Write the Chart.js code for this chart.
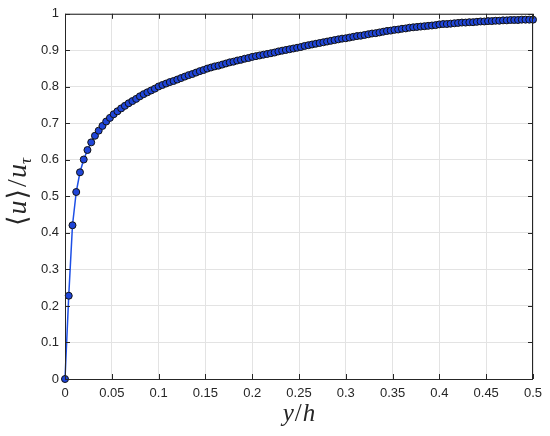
<!DOCTYPE html>
<html>
<head>
<meta charset="utf-8">
<script src="https://cdn.jsdelivr.net/npm/chart.js@4"></script>
<style>
    html, body { margin: 0; padding: 0; background: #ffffff; }
    #wrap { width: 550px; height: 436px; }
</style>
</head>
<body>
<div id="wrap"><canvas id="profile" width="550" height="436"></canvas></div>
<script>
// wall-normal positions y/h (uniform grid)
const yOverH = [
    0.000, 0.004, 0.008, 0.012, 0.016, 0.020, 0.024, 0.028, 0.032, 0.036,
    0.040, 0.044, 0.048, 0.052, 0.056, 0.060, 0.064, 0.068, 0.072, 0.076,
    0.080, 0.084, 0.088, 0.092, 0.096, 0.100, 0.104, 0.108, 0.112, 0.116,
    0.120, 0.124, 0.128, 0.132, 0.136, 0.140, 0.144, 0.148, 0.152, 0.156,
    0.160, 0.164, 0.168, 0.172, 0.176, 0.180, 0.184, 0.188, 0.192, 0.196,
    0.200, 0.204, 0.208, 0.212, 0.216, 0.220, 0.224, 0.228, 0.232, 0.236,
    0.240, 0.244, 0.248, 0.252, 0.256, 0.260, 0.264, 0.268, 0.272, 0.276,
    0.280, 0.284, 0.288, 0.292, 0.296, 0.300, 0.304, 0.308, 0.312, 0.316,
    0.320, 0.324, 0.328, 0.332, 0.336, 0.340, 0.344, 0.348, 0.352, 0.356,
    0.360, 0.364, 0.368, 0.372, 0.376, 0.380, 0.384, 0.388, 0.392, 0.396,
    0.400, 0.404, 0.408, 0.412, 0.416, 0.420, 0.424, 0.428, 0.432, 0.436,
    0.440, 0.444, 0.448, 0.452, 0.456, 0.460, 0.464, 0.468, 0.472, 0.476,
    0.480, 0.484, 0.488, 0.492, 0.496, 0.500,
];

// mean velocity <u>/u_tau at each position
const meanU = [
    0.000, 0.228, 0.421, 0.512, 0.566, 0.601, 0.627, 0.648, 0.666, 0.680,
    0.693, 0.705, 0.715, 0.725, 0.733, 0.741, 0.748, 0.755, 0.761, 0.767,
    0.774, 0.780, 0.785, 0.790, 0.795, 0.801, 0.805, 0.809, 0.813, 0.816,
    0.820, 0.824, 0.828, 0.832, 0.835, 0.839, 0.843, 0.846, 0.850, 0.853,
    0.856, 0.858, 0.861, 0.864, 0.867, 0.869, 0.872, 0.874, 0.877, 0.879,
    0.882, 0.884, 0.886, 0.888, 0.890, 0.892, 0.894, 0.897, 0.899, 0.901,
    0.903, 0.905, 0.907, 0.909, 0.912, 0.914, 0.916, 0.918, 0.920, 0.922,
    0.924, 0.926, 0.928, 0.930, 0.932, 0.933, 0.935, 0.937, 0.939, 0.940,
    0.942, 0.944, 0.946, 0.947, 0.949, 0.951, 0.953, 0.954, 0.956, 0.957,
    0.959, 0.960, 0.962, 0.963, 0.964, 0.965, 0.966, 0.967, 0.968, 0.969,
    0.971, 0.972, 0.972, 0.973, 0.974, 0.975, 0.976, 0.976, 0.977, 0.977,
    0.978, 0.979, 0.979, 0.980, 0.980, 0.981, 0.981, 0.982, 0.982, 0.983,
    0.983, 0.983, 0.984, 0.984, 0.984, 0.984,
];

const xTicks = [0, 0.05, 0.1, 0.15, 0.2, 0.25, 0.3, 0.35, 0.4, 0.45, 0.5];
const xTickLabels = ['0', '0.05', '0.1', '0.15', '0.2', '0.25', '0.3', '0.35', '0.4', '0.45', '0.5'];
const yTicks = [0, 0.1, 0.2, 0.3, 0.4, 0.5, 0.6, 0.7, 0.8, 0.9, 1];
const yTickLabels = ['0', '0.1', '0.2', '0.3', '0.4', '0.5', '0.6', '0.7', '0.8', '0.9', '1'];

const AXIS_COLOR = '#262626';
const TICK_FONT = { family: '"Liberation Sans", Arial, sans-serif', size: 13 };

// draws a run of [text, font, dy] pieces centred on (0, 0)
const drawPieces = (ctx, pieces) => {
    let total = 0;
    pieces.forEach((p) => {
        ctx.font = p.font;
        p.w = ctx.measureText(p.text).width + (p.gap || 0);
        total += p.w;
    });
    let x = -total / 2;
    pieces.forEach((p) => {
        ctx.font = p.font;
        ctx.fillText(p.text, x, p.dy || 0);
        x += p.w;
    });
};

const matlabAxes = {
    id: 'matlabAxes',
    afterDraw(chart) {
        const { ctx, chartArea, scales } = chart;
        const { left, right, top, bottom } = chartArea;
        ctx.save();
        ctx.strokeStyle = AXIS_COLOR;
        ctx.lineWidth = 1;
        ctx.beginPath();

        // inward ticks on all four sides
        xTicks.forEach((v) => {
            const px = Math.round(scales.x.getPixelForValue(v)) + 0.5;
            ctx.moveTo(px, bottom);
            ctx.lineTo(px, bottom - 5);
            ctx.moveTo(px, top);
            ctx.lineTo(px, top + 5);
        });
        yTicks.forEach((v) => {
            const py = Math.round(scales.y.getPixelForValue(v)) + 0.5;
            ctx.moveTo(left, py);
            ctx.lineTo(left + 5, py);
            ctx.moveTo(right, py);
            ctx.lineTo(right - 5, py);
        });
        ctx.stroke();
        ctx.strokeRect(left + 0.5, top + 0.5, right - left - 1, bottom - top);

        // axis titles
        ctx.fillStyle = AXIS_COLOR;
        ctx.textBaseline = 'alphabetic';
        ctx.textAlign = 'left';
        const serif = '"Liberation Serif", "DejaVu Serif", serif';

        ctx.save();
        ctx.translate((left + right) / 2, 421);
        drawPieces(ctx, [
            { text: 'y', font: `italic 25px ${serif}`, gap: 1 },
            { text: '/', font: `25px ${serif}`, gap: 1 },
            { text: 'h', font: `italic 25px ${serif}` },
        ]);
        ctx.restore();

        ctx.save();
        ctx.translate(26, 192);
        ctx.rotate(-Math.PI / 2);
        drawPieces(ctx, [
            { text: '\u27E8', font: `27px "DejaVu Serif", ${serif}`, gap: 1 },
            { text: 'u', font: `italic 28px ${serif}`, gap: 1 },
            { text: '\u27E9', font: `27px "DejaVu Serif", ${serif}`, gap: 2 },
            { text: '/', font: `28px ${serif}`, gap: 1 },
            { text: 'u', font: `italic 28px ${serif}` },
            { text: '\u03C4', font: `italic 17px ${serif}`, dy: 5 },
        ]);
        ctx.restore();

        ctx.restore();
    },
};

const init = () => {
    const canvas = document.getElementById('profile');
    const points = yOverH.map((x, i) => ({ x, y: meanU[i] }));

    new Chart(canvas, {
        type: 'scatter',
        data: {
            datasets: [{
                data: points,
                showLine: true,
                borderColor: '#1d4fe6',
                borderWidth: 1.5,
                pointBackgroundColor: '#1f45d8',
                pointBorderColor: '#111111',
                pointBorderWidth: 1,
                pointRadius: 3.5,
                pointHoverRadius: 3.5,
                tension: 0,
                clip: false,
            }],
        },
        options: {
            responsive: false,
            animation: false,
            devicePixelRatio: 1,
            layout: { padding: { top: 13, right: 17, left: 0, bottom: 0 } },
            plugins: {
                legend: { display: false },
                tooltip: { enabled: false },
            },
            scales: {
                x: {
                    type: 'linear',
                    min: 0,
                    max: 0.5,
                    afterBuildTicks: (scale) => {
                        scale.ticks = xTicks.map((value) => ({ value }));
                    },
                    afterFit: (scale) => { scale.height = 57; },
                    ticks: {
                        autoSkip: false,
                        maxRotation: 0,
                        padding: 7,
                        color: AXIS_COLOR,
                        font: TICK_FONT,
                        callback: (value) => xTickLabels[xTicks.indexOf(value)] ?? '',
                    },
                    grid: { color: '#e3e3e3', drawTicks: false },
                    border: { display: false },
                },
                y: {
                    type: 'linear',
                    min: 0,
                    max: 1,
                    afterBuildTicks: (scale) => {
                        scale.ticks = yTicks.map((value) => ({ value }));
                    },
                    afterFit: (scale) => { scale.width = 65; },
                    ticks: {
                        autoSkip: false,
                        padding: 6,
                        color: AXIS_COLOR,
                        font: TICK_FONT,
                        callback: (value) => yTickLabels[yTicks.indexOf(value)] ?? '',
                    },
                    grid: { color: '#e3e3e3', drawTicks: false },
                    border: { display: false },
                },
            },
        },
        plugins: [matlabAxes],
    });
};

init();
</script>
</body>
</html>
